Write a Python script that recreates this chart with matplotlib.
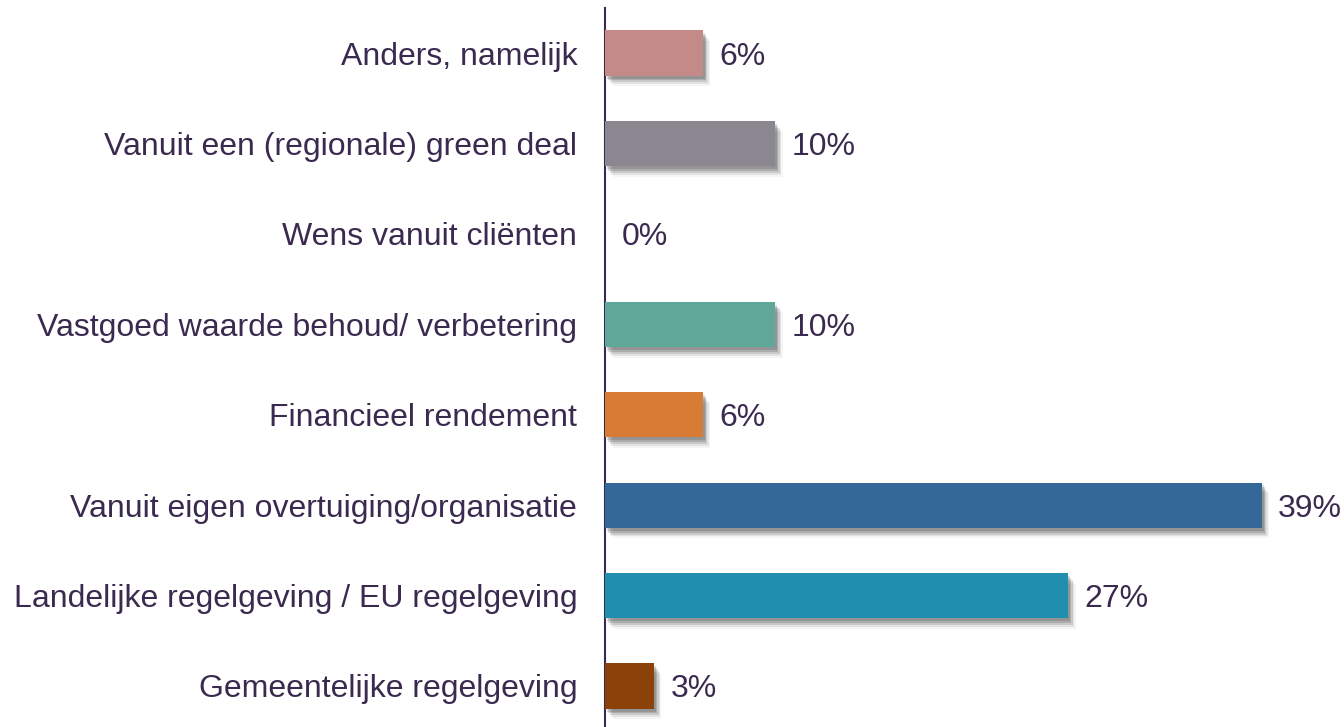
import matplotlib
matplotlib.use("Agg")
import matplotlib.pyplot as plt
import matplotlib.patheffects as pe

# -- Data ---------------------------------------------------------------------
categories = [
    "Anders, namelijk",
    "Vanuit een (regionale) green deal",
    "Wens vanuit cliënten",
    "Vastgoed waarde behoud/ verbetering",
    "Financieel rendement",
    "Vanuit eigen overtuiging/organisatie",
    "Landelijke regelgeving / EU regelgeving",
    "Gemeentelijke regelgeving",
]
values = [5.8, 10.1, 0.0, 10.1, 5.8, 39.0, 27.5, 2.9]
value_labels = ["6%", "10%", "0%", "10%", "6%", "39%", "27%", "3%"]
colors = ["#c48a88", "#8b8791", "#8b8791", "#5fa899",
          "#d77b35", "#336899", "#1f8fad", "#8b4108"]

TEXT = "#3b2a4f"

plt.rcParams["font.family"] = ["Liberation Sans", "DejaVu Sans"]

fig = plt.figure(figsize=(13.44, 7.27), dpi=100)
W, H = 1344, 727
# axis spine at x=605 px; category spacing ~90.4 px
ax = fig.add_axes([605 / W, -4.2 / H, (W - 605) / W, 723.4 / H])

ypos = list(range(len(categories)))

# soft drop shadow, layered to fake a blur
shadow = [
    pe.SimplePatchShadow(offset=(o, -o * 1.4), shadow_rgbFace="#000000", alpha=a)
    for o, a in [(1.5, 0.14), (2.5, 0.14), (3.5, 0.11), (4.5, 0.07), (5.5, 0.04)]
] + [pe.Normal()]

bars = ax.barh(ypos, values, height=0.5, color=colors, zorder=3)
for b, v in zip(bars, values):
    if v > 0:
        b.set_path_effects(shadow)

for y, v, lab in zip(ypos, values, value_labels):
    ax.annotate(lab, (v, y), xytext=(12, 0), textcoords="offset points",
                va="center_baseline", ha="left", fontsize=23, color=TEXT)

ax.set_yticks(ypos)
ax.set_yticklabels(categories, fontsize=23, color=TEXT, va="center_baseline")
ax.tick_params(axis="y", length=0, pad=20)
ax.set_xticks([])
ax.set_xlim(0, 43.9)
ax.set_ylim(len(categories) - 0.5, -0.5)

for side in ["top", "right", "bottom"]:
    ax.spines[side].set_visible(False)
ax.spines["left"].set_color(TEXT)
ax.spines["left"].set_linewidth(1.5)

fig.savefig("out.png", dpi=100)
